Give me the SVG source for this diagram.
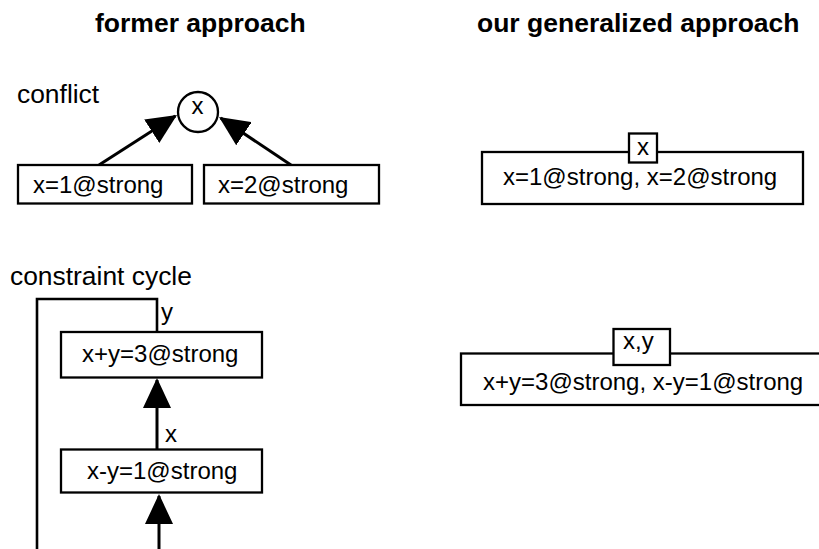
<svg xmlns="http://www.w3.org/2000/svg" width="819" height="549" viewBox="0 0 819 549">
<style>
  text { font-family: "Liberation Sans", Arial, Helvetica, sans-serif; fill: #000; }
  .title { font-size: 26.5px; font-weight: bold; }
  .label { font-size: 26.4px; }
  .t { font-size: 24px; }
  .box { fill: #fff; stroke: #000; stroke-width: 2.3; }
  .conn { fill: none; stroke: #000; stroke-width: 3; }
  .loop { fill: none; stroke: #000; stroke-width: 2.6; }
</style>
<defs>
  <marker id="arrow" markerUnits="userSpaceOnUse" viewBox="0 0 30 28" markerWidth="30" markerHeight="28" refX="28" refY="14" orient="auto">
    <path d="M0,0 L30,14 L0,28 z" fill="#000"/>
  </marker>
</defs>
<rect width="819" height="549" fill="#fff"/>

<g id="titles">
  <text class="title" x="95" y="32">former approach</text>
  <text class="title" x="477" y="32">our generalized approach</text>
</g>

<g id="label-conflict"><text class="label" x="17" y="103">conflict</text></g>
<g id="label-cycle"><text class="label" x="10" y="285">constraint cycle</text></g>

<g id="connectors">
  <line class="conn" x1="99" y1="165" x2="175.3" y2="116.1" marker-end="url(#arrow)"/>
  <line class="conn" x1="291" y1="165" x2="220.7" y2="118.1" marker-end="url(#arrow)"/>
  <path class="loop" d="M37,560 V299 H157 V332"/>
  <line class="conn" x1="157" y1="449.5" x2="157" y2="380" marker-end="url(#arrow)"/>
  <line class="conn" x1="159" y1="560" x2="159" y2="496" marker-end="url(#arrow)"/>
  <text class="t" x="161" y="320">y</text>
  <text class="t" x="165" y="442">x</text>
</g>

<g id="node-var-x">
  <circle class="box" cx="198" cy="112" r="20"/>
  <text class="t" x="197.5" y="113.5" text-anchor="middle">x</text>
</g>

<g id="node-x1">
  <rect class="box" x="18" y="165" width="174" height="38.5"/>
  <text class="t" x="33" y="193">x=1@strong</text>
</g>

<g id="node-x2">
  <rect class="box" x="204" y="165" width="175" height="38.5"/>
  <text class="t" x="218" y="193">x=2@strong</text>
</g>

<g id="node-xy3">
  <rect class="box" x="61" y="332" width="201" height="45.5"/>
  <text class="t" x="82" y="362">x+y=3@strong</text>
</g>

<g id="node-xy1">
  <rect class="box" x="61" y="449.5" width="201" height="43"/>
  <text class="t" x="87" y="479">x-y=1@strong</text>
</g>

<g id="node-gen-conflict">
  <rect class="box" x="482" y="152" width="321" height="52"/>
  <text class="t" x="503" y="185">x=1@strong, x=2@strong</text>
  <rect class="box" x="629" y="133.5" width="28" height="29"/>
  <text class="t" x="637" y="155">x</text>
</g>

<g id="node-gen-cycle">
  <rect class="box" x="461" y="353.5" width="380" height="51.5"/>
  <text class="t" x="483" y="390">x+y=3@strong, x-y=1@strong</text>
  <rect class="box" x="613.5" y="329" width="56.5" height="36"/>
  <text class="t" x="623" y="348.5">x,y</text>
</g>
</svg>
